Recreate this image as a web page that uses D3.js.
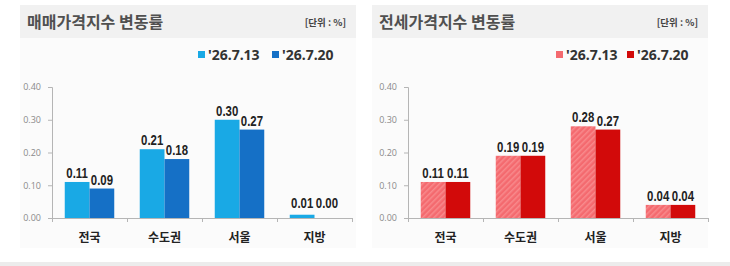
<!DOCTYPE html>
<html>
<head>
<meta charset="utf-8">
<script src="https://cdn.jsdelivr.net/npm/d3@7"></script>
<style>
  body { margin: 0; background: #fff; }
  svg { display: block; }
</style>
</head>
<body>
<svg id="chart" width="730" height="266"></svg>
<script>
// Data
const regions = ["전국", "수도권", "서울", "지방"];
const seriesNames = ["'26.7.13", "'26.7.20"];
const saleWeek1 = [0.11, 0.21, 0.30, 0.01];
const saleWeek2 = [0.09, 0.18, 0.27, 0.00];
const rentWeek1 = [0.11, 0.19, 0.28, 0.04];
const rentWeek2 = [0.11, 0.19, 0.27, 0.04];
const yTicks = [0, 0.1, 0.2, 0.3, 0.4];

const svg = d3.select("#chart");
const KR = "'Noto Sans CJK KR', 'Noto Sans', sans-serif";
const NUM = "'Liberation Sans', Arial, sans-serif";

// bottom strip
svg.append("rect").attr("x", 0).attr("y", 262).attr("width", 730).attr("height", 4).attr("fill", "#ececec");

// stripe pattern for light red bars
const defs = svg.append("defs");
const pat = defs.append("pattern")
    .attr("id", "stripeRed")
    .attr("patternUnits", "userSpaceOnUse")
    .attr("width", 4).attr("height", 4)
    .attr("patternTransform", "rotate(45)");
pat.append("rect").attr("width", 4).attr("height", 4).attr("fill", "#f46a6f");
pat.append("rect").attr("width", 1.5).attr("height", 4).attr("fill", "#f88a8c");

const panels = [
    { x: 20, title: "매매가격지수 변동률", data: [saleWeek1, saleWeek2],
      colors: ["#19a9e5", "#1570c6"], axisX: 52, legendX: 198, legendGap: 74 },
    { x: 372, title: "전세가격지수 변동률", data: [rentWeek1, rentWeek2],
      colors: ["url(#stripeRed)", "#d20a0a"], legendColors: ["#f46a6f", "#d20a0a"], axisX: 408, legendX: 556, legendGap: 71 }
];

panels.forEach(p => {
    const pw = 336;
    const g = svg.append("g");

    // panel background + header
    g.append("rect").attr("x", p.x).attr("y", 38).attr("width", pw).attr("height", 210).attr("fill", "#fbfbfb");
    g.append("rect").attr("x", p.x).attr("y", 5).attr("width", pw).attr("height", 33).attr("fill", "#f1f1f1");
    g.append("text").attr("x", p.x + 7).attr("y", 28)
        .attr("font-family", KR).attr("font-weight", "bold").attr("font-size", 16)
        .attr("fill", "#505050").text(p.title);
    g.append("text").attr("x", p.x + pw - 10).attr("y", 26).attr("text-anchor", "end")
        .attr("font-family", KR).attr("font-weight", "bold").attr("font-size", 9.5)
        .attr("fill", "#444").text("[단위 : %]");

    // legend
    const leg = g.append("g").attr("transform", `translate(${p.legendX},55)`);
    seriesNames.forEach((s, i) => {
        const lx = i * p.legendGap;
        leg.append("rect").attr("x", lx).attr("y", -4).attr("width", 7).attr("height", 7)
            .attr("fill", (p.legendColors || p.colors)[i]);
        leg.append("text").attr("x", lx + 10).attr("y", 5)
            .attr("font-family", "'Noto Sans', sans-serif").attr("font-weight", "bold").attr("font-size", 14)
            .attr("fill", "#333").text(s);
    });

    // scales
    const x0 = d3.scaleBand().domain(regions).range([p.axisX, p.axisX + 300]).paddingInner(0.34).paddingOuter(0.17);
    const x1 = d3.scaleBand().domain([0, 1]).range([0, x0.bandwidth()]);
    const y = d3.scaleLinear().domain([0, 0.4]).range([218, 87]);

    // y axis
    const yAxis = d3.axisLeft(y).tickValues(yTicks).tickFormat(d3.format(".2f")).tickSize(4).tickPadding(7);
    const ya = g.append("g").attr("transform", `translate(${p.axisX},0)`).call(yAxis);
    ya.select(".domain").attr("stroke", "#b5b5b5");
    ya.selectAll(".tick line").attr("stroke", "#b5b5b5");
    ya.selectAll("text").attr("fill", "#8a8a8a").attr("font-size", 9)
        .attr("font-family", "'Open Sans', sans-serif");

    // x axis line with boundary ticks
    g.append("line").attr("x1", p.axisX).attr("x2", p.axisX + 300).attr("y1", 218.5).attr("y2", 218.5).attr("stroke", "#b5b5b5");
    d3.range(5).forEach(i => {
        const tx = p.axisX + i * 75 + 0.5;
        g.append("line").attr("x1", tx).attr("x2", tx).attr("y1", 218).attr("y2", 222).attr("stroke", "#b5b5b5");
    });
    regions.forEach(r => {
        g.append("text").attr("x", x0(r) + x0.bandwidth() / 2).attr("y", 242).attr("text-anchor", "middle")
            .attr("font-family", KR).attr("font-weight", "bold").attr("font-size", 12)
            .attr("fill", "#222").text(r);
    });

    // bars
    p.data.forEach((vals, si) => {
        g.selectAll(null).data(vals).enter().append("rect")
            .attr("x", (d, i) => x0(regions[i]) + x1(si))
            .attr("y", d => y(d))
            .attr("width", x1.bandwidth())
            .attr("height", d => y(0) - y(d))
            .attr("fill", p.colors[si]);
        // condensed value labels
        g.selectAll(null).data(vals).enter().append("text")
            .attr("transform", (d, i) => {
                const cx = x0(regions[i]) + x1(si) + x1.bandwidth() / 2;
                const cy = (d < 0.03 ? Math.min(y(d), 212) : y(d)) - 4;
                return `translate(${cx},${cy}) scale(0.76,1)`;
            })
            .attr("text-anchor", "middle")
            .attr("font-family", NUM).attr("font-weight", "bold").attr("font-size", 15)
            .attr("fill", "#222").text(d => d.toFixed(2));
    });
});
</script>
</body>
</html>
